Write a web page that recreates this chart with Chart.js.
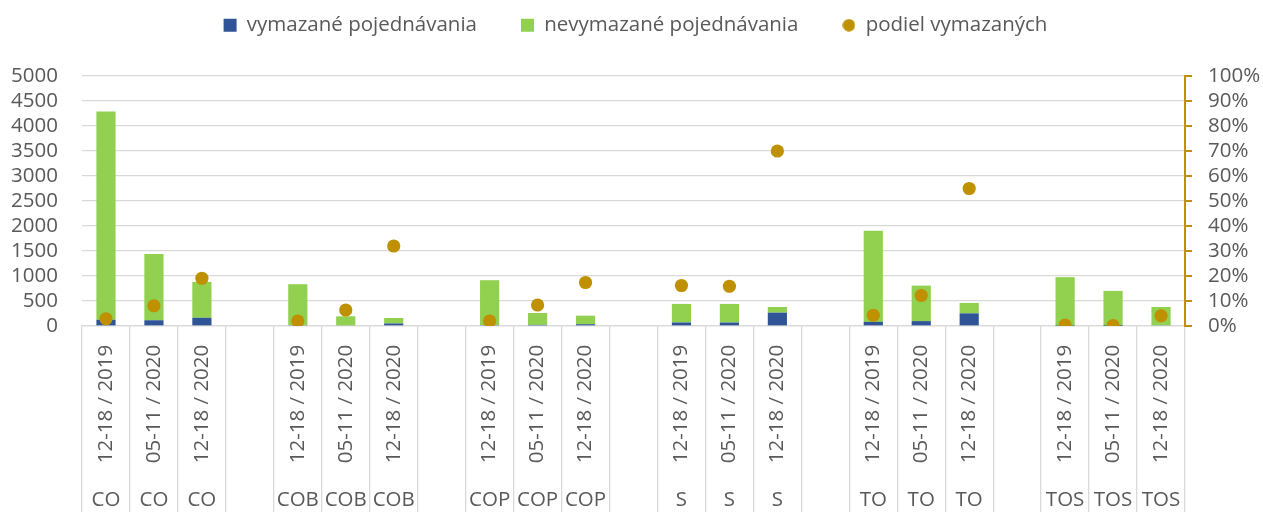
<html>
    <head>
        <meta charset="utf-8">
        <script src="https://cdn.jsdelivr.net/npm/chart.js@4/dist/chart.umd.min.js"></script>
        <style>
            body { margin: 0; background: #fff; }
            #wrap { width: 1263px; height: 512px; position: relative; }
        </style>
    </head>
    <body>
        <div id="wrap">
            <canvas id="myChart"></canvas>
        </div>

        <script>
            const groups = ['CO', 'COB', 'COP', 'S', 'TO', 'TOS'];
            const periods = ['12-18 / 2019', '05-11 / 2020', '12-18 / 2020'];

            // per group, per period
            const deleted = [125, 115, 165, 17, 12, 51, 18, 22, 36, 71, 70, 267, 82, 98, 253, 4, 1, 16];
            const notDeleted = [4165, 1323, 717, 819, 182, 109, 898, 238, 171, 370, 371, 114, 1823, 710, 208, 973, 701, 365];
            const share = [2.9, 8.1, 19.1, 2.0, 6.4, 32.0, 2.0, 8.4, 17.4, 16.2, 15.9, 70.0, 4.3, 12.2, 55.0, 0.4, 0.2, 4.1];

            const leftTicks = { min: 0, max: 5000, step: 500 };
            const rightTicks = { min: 0, max: 100, step: 10 };

            const textColor = '#595959';
            const font = { family: '"Open Sans"', size: 20.5 };
            const tickFont = { family: '"Open Sans"', size: 20.5, lineHeight: 1 };

            // insert an empty slot between groups
            function slotted(arr) {
                let out = [];
                groups.forEach((g, gi) => {
                    if (gi > 0) out.push(null);
                    periods.forEach((p, pi) => out.push(arr[gi * periods.length + pi]));
                });
                return out;
            }

            let slots = slotted(groups.flatMap(g => periods.map(p => ({ group: g, period: p }))));
            let labels = slots.map((s, i) => s ? s.period + ' ' + s.group : 'gap' + i);

            const catLabels = {
                id: 'catLabels',
                afterDraw(chart) {
                    const ctx = chart.ctx;
                    const x = chart.scales.x;
                    ctx.save();
                    ctx.fillStyle = textColor;
                    ctx.font = font.size + 'px ' + font.family;
                    ctx.textAlign = 'center';
                    ctx.textBaseline = 'middle';
                    slots.forEach((s, i) => {
                        if (!s) return;
                        const px = x.getPixelForValue(i);
                        ctx.save();
                        ctx.translate(px, 404);
                        ctx.rotate(-Math.PI / 2);
                        ctx.fillText(s.period, 0, 0);
                        ctx.restore();
                        ctx.fillText(s.group, px, 500);
                    });
                    ctx.restore();
                }
            };

            // small circle for the legend
            let dot = document.createElement('canvas');
            dot.width = 13; dot.height = 13;
            let dctx = dot.getContext('2d');
            dctx.fillStyle = '#BF9000';
            dctx.beginPath();
            dctx.arc(6.5, 6.5, 6.2, 0, Math.PI * 2);
            dctx.fill();

            var ctx = document.getElementById('myChart');
            var myChart = new Chart(ctx, {
                type: 'bar',
                data: {
                    labels: labels,
                    datasets: [{
                        label: 'vymazané pojednávania',
                        data: slotted(deleted),
                        backgroundColor: '#2F5597',
                        pointStyle: 'rect',
                        barPercentage: 0.4,
                        categoryPercentage: 1,
                        yAxisID: 'y',
                        order: 1
                    }, {
                        label: 'nevymazané pojednávania',
                        data: slotted(notDeleted),
                        backgroundColor: '#92D050',
                        pointStyle: 'rect',
                        barPercentage: 0.4,
                        categoryPercentage: 1,
                        yAxisID: 'y',
                        order: 1
                    }, {
                        type: 'line',
                        label: 'podiel vymazaných',
                        data: slotted(share),
                        showLine: false,
                        pointRadius: 6.6,
                        pointBorderWidth: 0,
                        backgroundColor: '#BF9000',
                        borderColor: '#BF9000',
                        yAxisID: 'y1',
                        order: 0
                    }]
                },
                options: {
                    responsive: true,
                    maintainAspectRatio: false,
                    animation: false,
                    layout: { padding: { top: -29, left: 8, right: 0, bottom: 0 } },
                    plugins: {
                        tooltip: { enabled: false },
                        legend: {
                            position: 'top',
                            labels: {
                                usePointStyle: true,
                                boxWidth: 13,
                                boxHeight: 13,
                                padding: 44,
                                color: textColor,
                                font: font,
                                sort: (a, b) => a.datasetIndex - b.datasetIndex,
                                generateLabels: function (chart) {
                                    let items = Chart.defaults.plugins.legend.labels.generateLabels(chart);
                                    items.forEach(it => {
                                        if (it.datasetIndex === 2) it.pointStyle = dot;
                                        it.lineWidth = 0;
                                    });
                                    return items;
                                }
                            }
                        },
                        subtitle: {
                            display: true,
                            text: '',
                            weight: 500,
                            font: { size: 10 },
                            padding: { top: 0, bottom: 18.5 }
                        }
                    },
                    scales: {
                        x: {
                            stacked: true,
                            ticks: { display: false },
                            grid: {
                                offset: true,
                                drawOnChartArea: false,
                                drawTicks: true,
                                tickLength: 186,
                                color: '#D9D9D9',
                                lineWidth: 1.3
                            },
                            border: { color: '#D9D9D9', width: 1.3 }
                        },
                        y: {
                            stacked: true,
                            position: 'left',
                            min: leftTicks.min,
                            max: leftTicks.max,
                            ticks: {
                                stepSize: leftTicks.step,
                                autoSkip: false,
                                color: textColor,
                                font: tickFont,
                                padding: 24,
                                callback: v => String(v)
                            },
                            grid: { color: '#D9D9D9', lineWidth: 1.3, drawTicks: false },
                            border: { display: false },
                            afterFit: (scale) => { scale.width = 74; }
                        },
                        y1: {
                            position: 'right',
                            min: rightTicks.min,
                            max: rightTicks.max,
                            ticks: {
                                stepSize: rightTicks.step,
                                autoSkip: false,
                                color: textColor,
                                font: tickFont,
                                padding: 16,
                                callback: v => v + '%'
                            },
                            grid: { drawOnChartArea: false, drawTicks: true, tickLength: 7, color: '#BF9000', lineWidth: 2 },
                            border: { color: '#BF9000', width: 2 },
                            afterFit: (scale) => { scale.width = 78; }
                        }
                    }
                },
                plugins: [catLabels]
            });
        </script>
    </body>
</html>
